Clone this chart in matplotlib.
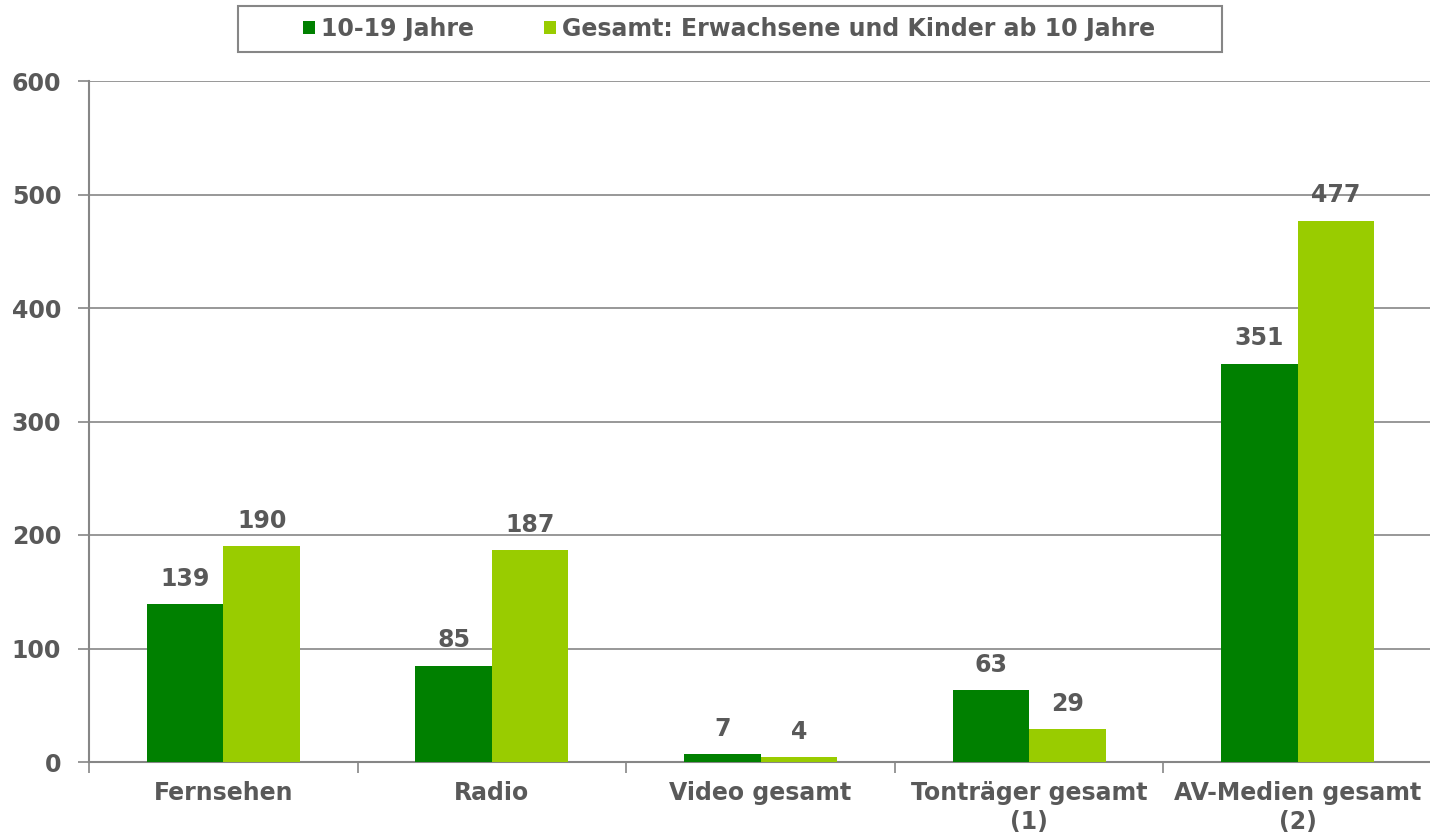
import numpy as np
import matplotlib.pyplot as plt
from matplotlib.patches import Rectangle

# Daten
kategorien = ['Fernsehen', 'Radio', 'Video gesamt', 'Tonträger gesamt\n(1)', 'AV-Medien gesamt\n(2)']
jugend = [139, 85, 7, 63, 351]
gesamt = [190, 187, 4, 29, 477]
serien_namen = ['10-19 Jahre', 'Gesamt: Erwachsene und Kinder ab 10 Jahre']

dunkelgruen = '#008000'
hellgruen = '#99cc00'
grau_text = '#595959'
grau_linie = '#868686'
fs = 17

plt.rcParams['font.family'] = ['DejaVu Sans']
plt.rcParams['font.weight'] = 'bold'

fig = plt.figure(figsize=(14.3, 8.36), dpi=100)
ax = fig.add_axes([89 / 1430, 74 / 836, 1343 / 1430, 681 / 836])

x = np.arange(len(kategorien))
breite = 0.285
b1 = ax.bar(x - breite / 2, jugend, breite, color=dunkelgruen, label=serien_namen[0], zorder=3)
b2 = ax.bar(x + breite / 2, gesamt, breite, color=hellgruen, label=serien_namen[1], zorder=3)

# Werte ueber den Balken
for balken in (b1, b2):
    ax.bar_label(balken, padding=9.5, fontsize=fs, fontweight='bold', color=grau_text)

ax.set_ylim(0, 600)
ax.set_xlim(-0.5, len(kategorien) - 0.5)
ax.set_yticks(range(0, 601, 100))
ax.yaxis.grid(True, color=grau_linie, linewidth=1.2, zorder=0)
ax.set_axisbelow(True)

# x-Achse: Beschriftung mittig, Striche zwischen den Kategorien
ax.set_xticks(x)
ax.set_xticklabels(kategorien, fontsize=fs, fontweight='bold', color=grau_text, linespacing=1.25)
ax.tick_params(axis='x', length=0, pad=14)
ax.set_xticks(np.arange(-0.5, len(kategorien), 1), minor=True)
ax.tick_params(axis='x', which='minor', length=8, width=1.2, color=grau_linie, direction='out')
ax.tick_params(axis='y', length=8, width=1.2, color=grau_linie, labelsize=fs,
               labelcolor=grau_text, pad=12)
for lab in ax.get_yticklabels():
    lab.set_fontweight('bold')

for s in ['top', 'right']:
    ax.spines[s].set_visible(False)
for s in ['left', 'bottom']:
    ax.spines[s].set_color(grau_linie)
    ax.spines[s].set_linewidth(1.5)

# Legende mit eigenem Rahmen
fig.patches.append(Rectangle((238 / 1430, 1 - 52 / 836), 984 / 1430, 46 / 836,
                             transform=fig.transFigure, fill=False,
                             edgecolor=grau_linie, linewidth=1.5))
leg = fig.legend(loc='center', bbox_to_anchor=(729 / 1430, 1 - 29 / 836), ncol=2,
                 frameon=False, handlelength=0.5, handleheight=0.5,
                 handletextpad=0.25, columnspacing=3.0, borderpad=0.3,
                 labelcolor=grau_text, prop={'weight': 'bold', 'size': fs})

fig.savefig('out.png', dpi=100)
